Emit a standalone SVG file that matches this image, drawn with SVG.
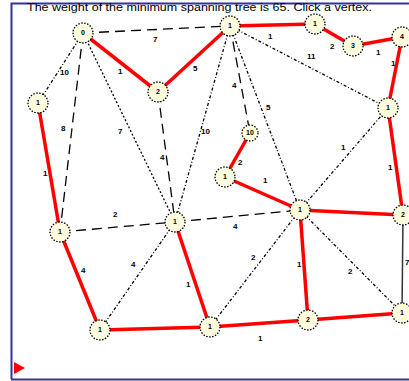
<svg xmlns="http://www.w3.org/2000/svg" width="409" height="381" viewBox="0 0 409 381">
<style>
.t{font-family:"Liberation Sans",Arial,sans-serif;font-size:10px;fill:#000}
.w{font-family:"Liberation Sans",Arial,sans-serif;font-size:8px;font-weight:bold;fill:#000}
.n circle{fill:#ffffe0;stroke:#000;stroke-width:1.3;stroke-dasharray:1.5 1.5}
.n text{font-family:"Liberation Sans",Arial,sans-serif;font-size:7px;font-weight:bold;fill:#000;text-anchor:middle}
.r{stroke:#ff0000;stroke-width:3.5;fill:none}
.d{stroke:#000;stroke-width:1.3;fill:none}
.ld{stroke-dasharray:10 6}
.dd{stroke-dasharray:3 2 1 2}
.dt{stroke-dasharray:2 2}
</style>
<rect x="0" y="0" width="409" height="381" fill="#fff"/>
<path d="M412 3.5 H11.5 V379" fill="none" stroke="#333399" stroke-width="2"/>
<path d="M11 379.5 H412" fill="none" stroke="#333399" stroke-width="2"/>
<polygon points="14,362 25,368 14,374" fill="#ff0000"/>
<text class="t" x="27" y="11" textLength="345" lengthAdjust="spacingAndGlyphs">The weight of the minimum spanning tree is 65. Click a vertex.</text>
<g id="connectors">
<line class="d ld" x1="83" y1="33" x2="230" y2="26"/>
<line class="d dd" x1="83" y1="33" x2="38" y2="103"/>
<line class="d ld" x1="83" y1="33" x2="60" y2="232"/>
<line class="d dt" x1="83" y1="33" x2="175" y2="222"/>
<line class="d ld" x1="158" y1="92" x2="175" y2="222"/>
<line class="d dd" x1="230" y1="26" x2="175" y2="222"/>
<line class="d ld" x1="230" y1="26" x2="250" y2="133"/>
<line class="d dd" x1="230" y1="26" x2="300" y2="210"/>
<line class="d dd" x1="230" y1="26" x2="388" y2="108"/>
<line class="d ld" x1="60" y1="232" x2="175" y2="222"/>
<line class="d ld" x1="175" y1="222" x2="300" y2="210"/>
<line class="d dd" x1="175" y1="222" x2="100" y2="330"/>
<line class="d dd" x1="300" y1="210" x2="388" y2="108"/>
<line class="d dd" x1="300" y1="210" x2="210" y2="327"/>
<line class="d dd" x1="300" y1="210" x2="402" y2="313"/>
<line stroke="#333" stroke-width="1.5" x1="403" y1="215" x2="402" y2="313"/>
<line class="r" x1="83" y1="33" x2="158" y2="92"/>
<line class="r" x1="158" y1="92" x2="230" y2="26"/>
<line class="r" x1="230" y1="26" x2="315" y2="24"/>
<line class="r" x1="315" y1="24" x2="353" y2="46"/>
<line class="r" x1="353" y1="46" x2="402" y2="37"/>
<line class="r" x1="402" y1="37" x2="388" y2="108"/>
<line class="r" x1="388" y1="108" x2="403" y2="215"/>
<line class="r" x1="38" y1="103" x2="60" y2="232"/>
<line class="r" x1="60" y1="232" x2="100" y2="330"/>
<line class="r" x1="100" y1="330" x2="210" y2="327"/>
<line class="r" x1="175" y1="222" x2="210" y2="327"/>
<line class="r" x1="210" y1="327" x2="308" y2="320"/>
<line class="r" x1="308" y1="320" x2="300" y2="210"/>
<line class="r" x1="308" y1="320" x2="402" y2="313"/>
<line class="r" x1="300" y1="210" x2="403" y2="215"/>
<line class="r" x1="300" y1="210" x2="225" y2="177"/>
<line class="r" x1="225" y1="177" x2="250" y2="133"/>
<text class="w" x="153" y="42">7</text>
<text class="w" x="118" y="74">1</text>
<text class="w" x="60" y="75">10</text>
<text class="w" x="193" y="71">5</text>
<text class="w" x="232" y="88">4</text>
<text class="w" x="266" y="110">5</text>
<text class="w" x="268" y="39">1</text>
<text class="w" x="307" y="59">11</text>
<text class="w" x="330" y="49">2</text>
<text class="w" x="376" y="55">1</text>
<text class="w" x="391" y="66">1</text>
<text class="w" x="61" y="131">8</text>
<text class="w" x="43" y="176">1</text>
<text class="w" x="118" y="134">7</text>
<text class="w" x="160" y="160">4</text>
<text class="w" x="201" y="134">10</text>
<text class="w" x="113" y="217">2</text>
<text class="w" x="233" y="229">4</text>
<text class="w" x="263" y="183">1</text>
<text class="w" x="238" y="165">2</text>
<text class="w" x="341" y="150">1</text>
<text class="w" x="388" y="170">1</text>
<text class="w" x="81" y="273">4</text>
<text class="w" x="131" y="267">4</text>
<text class="w" x="186" y="287">1</text>
<text class="w" x="258" y="341">1</text>
<text class="w" x="251" y="260">2</text>
<text class="w" x="297" y="267">1</text>
<text class="w" x="348" y="274">2</text>
<text class="w" x="405" y="265">7</text>
</g>
<g id="nA" class="n"><circle cx="83" cy="33" r="10"/><text x="83" y="35">0</text></g>
<g id="nB" class="n"><circle cx="230" cy="26" r="10"/><text x="230" y="28">1</text></g>
<g id="nC" class="n"><circle cx="315" cy="24" r="10"/><text x="315" y="26">1</text></g>
<g id="nD" class="n"><circle cx="353" cy="46" r="10"/><text x="353" y="48">3</text></g>
<g id="nE" class="n"><circle cx="402" cy="37" r="10"/><text x="402" y="39">4</text></g>
<g id="nF" class="n"><circle cx="38" cy="103" r="10"/><text x="38" y="105">1</text></g>
<g id="nG" class="n"><circle cx="158" cy="92" r="10"/><text x="158" y="94">2</text></g>
<g id="nH" class="n"><circle cx="388" cy="108" r="10"/><text x="388" y="110">1</text></g>
<g id="nI" class="n"><circle cx="250" cy="133" r="8"/><text x="250" y="135">10</text></g>
<g id="nJ" class="n"><circle cx="225" cy="177" r="10"/><text x="225" y="179">1</text></g>
<g id="nK" class="n"><circle cx="60" cy="232" r="10"/><text x="60" y="234">1</text></g>
<g id="nL" class="n"><circle cx="175" cy="222" r="10"/><text x="175" y="224">1</text></g>
<g id="nM" class="n"><circle cx="300" cy="210" r="10"/><text x="300" y="212">1</text></g>
<g id="nN" class="n"><circle cx="403" cy="215" r="10"/><text x="403" y="217">2</text></g>
<g id="nO" class="n"><circle cx="100" cy="330" r="10"/><text x="100" y="332">1</text></g>
<g id="nP" class="n"><circle cx="210" cy="327" r="10"/><text x="210" y="329">1</text></g>
<g id="nQ" class="n"><circle cx="308" cy="320" r="10"/><text x="308" y="322">2</text></g>
<g id="nR" class="n"><circle cx="402" cy="313" r="10"/><text x="402" y="315">1</text></g>
</svg>
